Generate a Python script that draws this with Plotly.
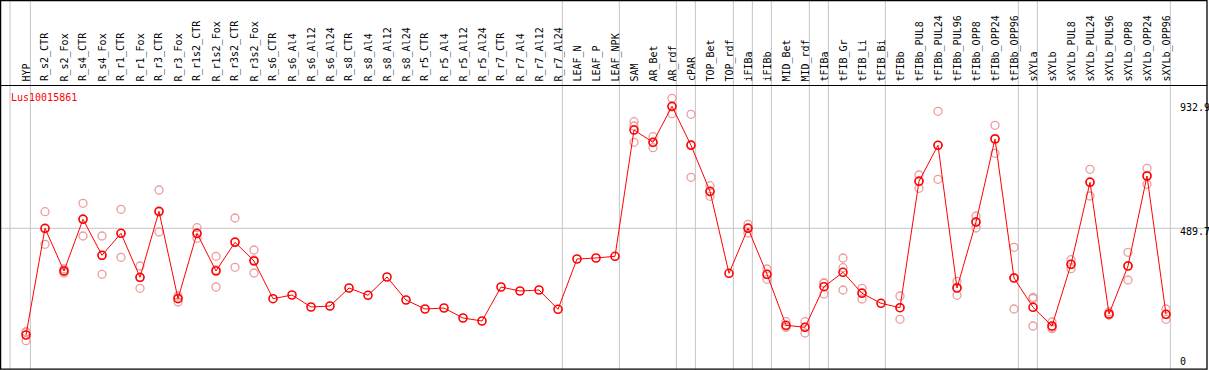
import plotly.graph_objects as go

gene = "Lus10015861"

categories = [
    "HYP", "R_s2_CTR", "R_s2_Fox", "R_s4_CTR", "R_s4_Fox", "R_r1_CTR", "R_r1_Fox",
    "R_r3_CTR", "R_r3_Fox", "R_r1s2_CTR", "R_r1s2_Fox", "R_r3s2_CTR", "R_r3s2_Fox",
    "R_s6_CTR", "R_s6_Al4", "R_s6_Al12", "R_s6_Al24", "R_s8_CTR", "R_s8_Al4",
    "R_s8_Al12", "R_s8_Al24", "R_r5_CTR", "R_r5_Al4", "R_r5_Al12", "R_r5_Al24",
    "R_r7_CTR", "R_r7_Al4", "R_r7_Al12", "R_r7_Al24", "LEAF_N", "LEAF_P", "LEAF_NPK",
    "SAM", "AR_Bet", "AR_rdf", "cPAR", "TOP_Bet", "TOP_rdf", "iFIBa", "iFIBb",
    "MID_Bet", "MID_rdf", "tFIBa", "tFIB_Gr", "tFIB_Li", "tFIB_Bi", "tFIBb",
    "tFIBb_PUL8", "tFIBb_PUL24", "tFIBb_PUL96", "tFIBb_OPP8", "tFIBb_OPP24",
    "tFIBb_OPP96", "sXYLa", "sXYLb", "sXYLb_PUL8", "sXYLb_PUL24", "sXYLb_PUL96",
    "sXYLb_OPP8", "sXYLb_OPP24", "sXYLb_OPP96",
]

means = [
    102.1, 489.7, 334.5, 522.3, 391.6, 471.5, 311.7, 551.4, 233.9, 471.5, 334.5,
    438.8, 370.9, 233.9, 247.4, 203.8, 207.4, 272.8, 246.3, 312.8, 229.2, 196.5,
    200.1, 163.8, 152.9, 276.4, 261.9, 265.5, 195.4, 378.1, 381.8, 387.9, 846.7,
    802.0, 932.9, 791.1, 624.0, 326.2, 489.7, 322.6, 137.3, 130.0, 277.5, 329.8,
    253.5, 217.2, 201.2, 660.4, 791.1, 272.8, 512.5, 814.0, 309.1, 202.7, 134.8,
    358.9, 656.7, 178.4, 352.7, 679.6, 177.3,
]

replicates = [
    [114.0, 110.8, 81.4], [549.9, 487.4, 431.5], [341.8, 334.5, 327.3],
    [580.5, 524.9, 461.7], [461.7, 390.5, 322.6], [558.7, 471.5, 384.3],
    [352.7, 310.6, 271.7], [628.8, 548.9, 476.2], [243.7, 236.5, 221.9],
    [491.8, 468.9, 453.3], [387.9, 339.3, 276.4], [527.1, 441.3, 348.0],
    [410.8, 374.5, 327.3],
    [], [], [], [], [], [], [], [], [], [], [], [], [], [], [], [], [], [], [],
    [876.9, 861.2, 802.0], [822.4, 800.9, 782.4], [961.9, 930.3, 905.9],
    [903.7, 794.8, 674.9], [644.4, 621.5, 605.9], [],
    [504.2, 492.2, 472.6], [341.8, 321.5, 304.4], [150.4, 131.1, 130.0],
    [150.4, 130.0, 109.3], [291.0, 291.0, 251.0], [381.8, 346.5, 265.5],
    [271.7, 255.7, 232.8], [], [243.7, 201.2, 159.1],
    [683.3, 662.5, 634.9], [914.6, 791.1, 667.6], [297.1, 275.0, 246.3],
    [534.3, 512.5, 490.7], [863.8, 816.2, 762.1], [420.6, 310.2, 196.5],
    [239.0, 233.9, 134.8], [149.3, 130.0, 125.0], [375.6, 357.8, 342.9],
    [704.0, 658.9, 607.0], [185.6, 174.7, 174.7], [402.5, 353.8, 301.9],
    [707.6, 681.8, 649.5], [196.5, 176.2, 159.1],
]

group_breaks = [0, 28, 31, 34, 35, 37, 38, 39, 41, 42, 45, 52, 53, 60]
ytick_vals = [932.9, 489.7, 0]
ytick_text = ["932.9", "489.7", "0"]

# ---------------- layout geometry ----------------
W, H = 1209, 370
x0_px, dx_px = 26.0, 19.0
y0_px, ky = 363.1, 0.2753
x_range = [-x0_px / dx_px, (W - x0_px) / dx_px]
y_range = [(y0_px - H) / ky, y0_px / ky]
label_base_px = 83.5
sep_px = 85.5

xs = list(range(len(categories)))
rep_x, rep_y = [], []
for i, reps in enumerate(replicates):
    for v in reps:
        rep_x.append(i)
        rep_y.append(v)

fig = go.Figure()

fig.add_trace(go.Scatter(
    x=rep_x, y=rep_y, mode="markers",
    marker=dict(symbol="circle-open", size=8, color="#ec9c9c",
                line=dict(width=1.3, color="#ec9c9c")),
    hoverinfo="skip", showlegend=False,
))
fig.add_trace(go.Scatter(
    x=xs, y=means, mode="lines+markers",
    line=dict(color="#ff0000", width=1),
    marker=dict(symbol="circle-open", size=8, color="#ff0000",
                line=dict(width=1.6, color="#ff0000")),
    showlegend=False, text=categories,
))

shapes = []
# vertical group separators
for b in [-1.07] + group_breaks:
    xv = b + 0.23
    shapes.append(dict(type="line", xref="x", yref="paper", x0=xv, x1=xv,
                       y0=0, y1=1, line=dict(color="#c4c4c4", width=1),
                       layer="below"))
# horizontal gridline at middle tick
shapes.append(dict(type="line", xref="paper", yref="y", x0=0, x1=1,
                   y0=ytick_vals[1], y1=ytick_vals[1],
                   line=dict(color="#c4c4c4", width=1), layer="below"))
# separator between labels and plot
shapes.append(dict(type="line", xref="paper", yref="paper", x0=0, x1=1207.5 / W,
                   y0=1 - sep_px / H, y1=1 - sep_px / H,
                   line=dict(color="#000000", width=1.2), layer="above"))
# frame
shapes.append(dict(type="rect", xref="paper", yref="paper",
                   x0=0.6 / W, x1=1207 / W, y0=1 - 369.2 / H, y1=1 - 0.6 / H,
                   line=dict(color="#000000", width=1.3), fillcolor="rgba(0,0,0,0)",
                   layer="above"))

annotations = []
for i, c in enumerate(categories):
    annotations.append(dict(
        x=i, xref="x", y=1 - label_base_px / H, yref="paper",
        text=c, textangle=-90, showarrow=False,
        xanchor="center", yanchor="bottom",
        font=dict(family="DejaVu Sans Mono", size=10, color="#000000"),
    ))

yshifts = [-1.4, -3.4, 1.4]
for v, t, s in zip(ytick_vals, ytick_text, yshifts):
    annotations.append(dict(
        x=1178 / W, xref="paper", y=v, yref="y", yshift=s,
        text=t, showarrow=False, xanchor="left", yanchor="middle",
        font=dict(family="DejaVu Sans Mono", size=10, color="#000000"),
    ))

annotations.append(dict(
    x=9 / W, xref="paper", y=1 - 97.7 / H, yref="paper",
    text=gene, showarrow=False, xanchor="left", yanchor="middle",
    font=dict(family="DejaVu Sans Mono", size=10, color="#ff0000"),
))

fig.update_layout(
    width=W, height=H,
    margin=dict(l=0, r=0, t=0, b=0),
    paper_bgcolor="#ffffff", plot_bgcolor="#ffffff",
    xaxis=dict(range=x_range, visible=False, fixedrange=True),
    yaxis=dict(range=y_range, visible=False, fixedrange=True),
    shapes=shapes, annotations=annotations,
    showlegend=False,
)

fig.write_html(
    "out.html",
    config={"displayModeBar": False},
    post_script="document.body.style.margin='0';document.body.style.overflow='hidden';",
)
